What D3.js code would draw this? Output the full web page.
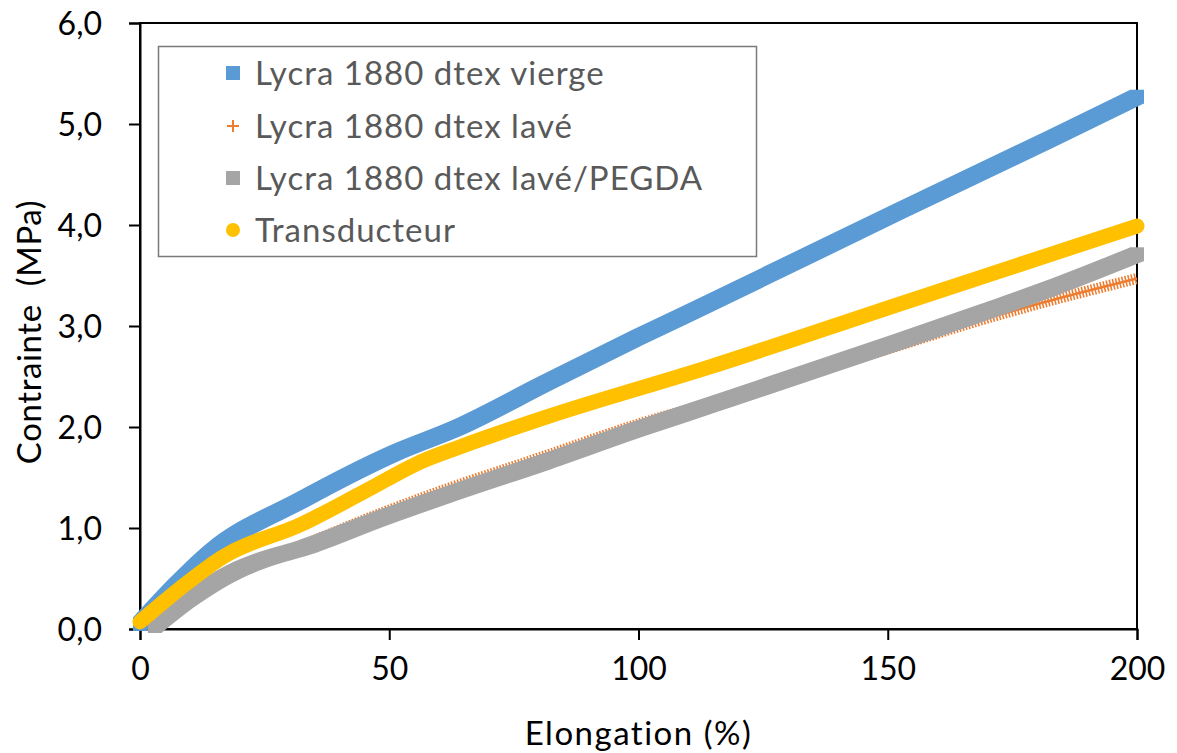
<!DOCTYPE html>
<html><head><meta charset="utf-8">
<script src="https://cdn.jsdelivr.net/npm/d3@7"></script>
<style>
html,body{margin:0;padding:0;background:#fff;}
svg{display:block;}
text{font-family:Lato,"Open Sans",sans-serif;}
</style></head>
<body>
<svg id="chart" width="1177" height="753"></svg>
<script>
// ---- data ----
const seriesNames = ["Lycra 1880 dtex vierge", "Lycra 1880 dtex lavé", "Lycra 1880 dtex lavé/PEGDA", "Transducteur"];
const viergeX = [0, 7, 14.5, 32.5, 51, 64, 81.6, 100, 114, 152, 182.5, 200];
const viergeY = [0.05, 0.42, 0.77, 1.28, 1.74, 2.0, 2.44, 2.89, 3.22, 4.13, 4.85, 5.27];
const laveX = [2, 10, 20, 32.5, 48, 60, 81.6, 100, 114, 140, 152.5, 166, 182.5, 200];
const laveY = [0.0, 0.3, 0.6, 0.83, 1.14, 1.36, 1.72, 2.03, 2.23, 2.62, 2.81, 3.02, 3.25, 3.47];
const pegdaX = [3, 10, 19, 25, 32.5, 48, 60, 81.6, 100, 114, 152.5, 170, 182.5, 200];
const pegdaY = [0.03, 0.3, 0.57, 0.69, 0.8, 1.09, 1.3, 1.66, 1.98, 2.21, 2.85, 3.15, 3.37, 3.71];
const transX = [0, 8, 16.5, 32.5, 45, 57, 64, 81.6, 114, 152.5, 200];
const transY = [0.07, 0.4, 0.71, 1.04, 1.36, 1.67, 1.8, 2.1, 2.59, 3.22, 3.99];
const xTicks = [0, 50, 100, 150, 200];
const xTickLabels = ["0", "50", "100", "150", "200"];
const yTicks = [0, 1, 2, 3, 4, 5, 6];
const yTickLabels = ["0,0", "1,0", "2,0", "3,0", "4,0", "5,0", "6,0"];
const xTitle = "Elongation (%)";
const yTitle = "Contrainte  (MPa)";

// ---- layout ----
const L = 140, R = 1137, T = 23, B = 629;
const colors = {blue: "#5B9BD5", orange: "#ED7D31", gray: "#A5A5A5", yellow: "#FFC000"};

const svg = d3.select("#chart");
const x = d3.scaleLinear().domain([0, 200]).range([L, R]);
const y = d3.scaleLinear().domain([0, 6]).range([B, T]);

const zip = (xs, ys) => xs.map((v, i) => [v, ys[i]]);
const line = d3.line().x(d => x(d[0])).y(d => y(d[1])).curve(d3.curveMonotoneX);

// frame
svg.append("rect").attr("x", L).attr("y", T).attr("width", R - L).attr("height", B - T)
  .attr("fill", "none").attr("stroke", "#000").attr("stroke-width", 2);

// axes
const xAxis = d3.axisBottom(x).tickValues(xTicks).tickFormat((d, i) => xTickLabels[i]).tickSize(11).tickPadding(10);
const yAxis = d3.axisLeft(y).tickValues(yTicks).tickFormat((d, i) => yTickLabels[i]).tickSize(11).tickPadding(27);
const gx = svg.append("g").attr("transform", `translate(0,${B})`).call(xAxis);
const gy = svg.append("g").attr("transform", `translate(${L},0)`).call(yAxis);
[gx, gy].forEach(g => {
  g.select(".domain").attr("stroke", "#000").attr("stroke-width", 2);
  g.selectAll(".tick line").attr("stroke", "#000").attr("stroke-width", 2);
  g.selectAll(".tick text").attr("fill", "#000").style("font-family", "Lato").style("font-size", "32px");
});
gx.selectAll(".tick text").attr("dy", "0.95em");
gy.selectAll(".tick text").attr("dy", "0.36em");

// series drawing helpers
function squareSweep(data, color, s) {
  const g = svg.append("g");
  const h = s / 2;
  const d = line(data);
  for (let t = -h + 1; t <= h - 1 + 1e-6; t += 1) {
    g.append("path").attr("d", d).attr("transform", `translate(${t},${t})`)
      .attr("fill", "none").attr("stroke", color).attr("stroke-width", 2.2);
  }
  [data[0], data[data.length - 1]].forEach(p => {
    g.append("rect").attr("x", x(p[0]) - h).attr("y", y(p[1]) - h).attr("width", s).attr("height", s).attr("fill", color);
  });
}
function crossSweep(data, color, s) {
  const g = svg.append("g");
  const d = line(data);
  g.append("path").attr("d", d).attr("fill", "none").attr("stroke", color).attr("stroke-width", 2.5);
  g.append("path").attr("d", d).attr("fill", "none").attr("stroke", color).attr("stroke-width", s)
    .attr("stroke-dasharray", "1.6,1.6");
}
function circleSweep(data, color, dia) {
  svg.append("path").attr("d", line(data)).attr("fill", "none").attr("stroke", color)
    .attr("stroke-width", dia).attr("stroke-linecap", "round").attr("stroke-linejoin", "round");
}

squareSweep(zip(viergeX, viergeY), colors.blue, 14);
crossSweep(zip(laveX, laveY), colors.orange, 11);
squareSweep(zip(pegdaX, pegdaY), colors.gray, 14);
circleSweep(zip(transX, transY), colors.yellow, 15);

// legend
const lg = svg.append("g");
lg.append("rect").attr("x", 158.5).attr("y", 46.5).attr("width", 598).attr("height", 210)
  .attr("fill", "#fff").attr("stroke", "#7a7a7a").attr("stroke-width", 1.5);
const legY = [73, 126, 178, 230];
const mx = 233;
lg.append("rect").attr("x", mx - 7).attr("y", legY[0] - 7).attr("width", 14).attr("height", 14).attr("fill", colors.blue);
lg.append("path").attr("d", `M${mx - 6},${legY[1]}H${mx + 6}M${mx},${legY[1] - 6}V${legY[1] + 6}`)
  .attr("stroke", colors.orange).attr("stroke-width", 2);
lg.append("rect").attr("x", mx - 7).attr("y", legY[2] - 7).attr("width", 14).attr("height", 14).attr("fill", colors.gray);
lg.append("circle").attr("cx", mx).attr("cy", legY[3]).attr("r", 7).attr("fill", colors.yellow);
seriesNames.forEach((n, i) => {
  lg.append("text").attr("x", 255).attr("y", legY[i]).attr("dy", "0.36em")
    .attr("fill", "#595959").style("font-size", "33px").style("letter-spacing", "1px").text(n);
});

// axis titles
svg.append("text").attr("x", (L + R) / 2).attr("y", 745).attr("text-anchor", "middle")
  .attr("fill", "#000").style("font-size", "33px").style("letter-spacing", "1.5px").text(xTitle);
svg.append("text").attr("transform", `translate(41,${(T + B) / 2 + 6}) rotate(-90)`).attr("text-anchor", "middle")
  .attr("fill", "#000").style("font-size", "33px").style("letter-spacing", "0.6px").style("white-space", "pre").text(yTitle);
</script>
</body></html>
